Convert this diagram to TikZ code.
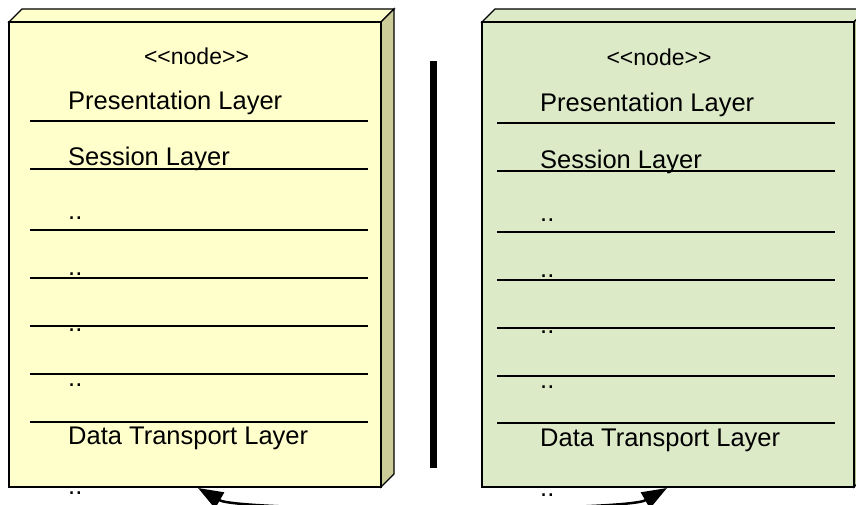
\documentclass[tikz,border=0pt]{standalone}
\usepackage{fontspec}
\setmainfont{Liberation Sans}
\usepackage{tikz}
\usetikzlibrary{arrows.meta}

\definecolor{nodeyellow}{RGB}{255,255,204}
\definecolor{nodeolive}{RGB}{204,204,153}
\definecolor{nodegreen}{RGB}{221,234,200}
\definecolor{nodegreendark}{RGB}{176,196,146}

\tikzset{
  face/.style={draw=black,line width=1.3pt,line join=miter},
  layerline/.style={draw=black,line width=1.5pt},
  layertext/.style={anchor=base west,inner sep=0pt,font=\fontsize{25.5}{30}\selectfont},
  stereotype/.style={anchor=base,inner sep=0pt,font=\fontsize{23}{27}\selectfont},
  link/.style={line width=2.5pt,{Triangle[length=25pt,width=18pt]}-{Triangle[length=25pt,width=18pt]}}
}

\begin{document}
\begin{tikzpicture}[x=1pt,y=-1pt]
\useasboundingbox (0,0) rectangle (856,505);
% left node:
\path[face,fill=nodeyellow] (9,22) -- (22,9) -- (394,9) -- (381,22) -- cycle;
\path[face,fill=nodeolive] (381,22) -- (394,9) -- (394,474) -- (381,487) -- cycle;
\node[face,fill=nodeyellow,minimum width=372pt,minimum height=465pt,inner sep=0pt] (lbox) at (195,254.5) {};
\foreach \y in {121,169,230,278,326,374,422}
  \path[layerline] (30,\y) -- (368,\y);
\node[stereotype] (lhead) at (196.5,65) {<{}<node>{}>};
\node[layertext] (lpres) at (68,110) {Presentation Layer};
\node[layertext] (lsess) at (68,166) {Session Layer};
\node[layertext] (ldotsa) at (68,219) {..};
\node[layertext] (ldotsb) at (68,275) {..};
\node[layertext] (ldotsc) at (68,331) {..};
\node[layertext] (ldotsd) at (68,386) {..};
\node[layertext] (ldata) at (68,444) {Data Transport Layer};
\node[layertext] (ldotse) at (68,494) {..};
% separator:
\path[draw=black,line width=7pt] (433,61) -- (433,468);
% right node:
\path[face,fill=nodegreen] (482,22) -- (495,9) -- (867,9) -- (854,22) -- cycle;
\path[face,fill=nodegreendark] (854,22) -- (867,9) -- (867,474) -- (854,487) -- cycle;
\node[face,fill=nodegreen,minimum width=372pt,minimum height=465pt,inner sep=0pt] (rbox) at (668,254.5) {};
\foreach \y in {123,171,232,280,328,376,423}
  \path[layerline] (497,\y) -- (835,\y);
\node[stereotype] (rhead) at (659,66) {<{}<node>{}>};
\node[layertext] (rpres) at (540,112) {Presentation Layer};
\node[layertext] (rsess) at (540,168) {Session Layer};
\node[layertext] (rdotsa) at (540,221) {..};
\node[layertext] (rdotsb) at (540,277) {..};
\node[layertext] (rdotsc) at (540,333) {..};
\node[layertext] (rdotsd) at (540,388) {..};
\node[layertext] (rdata) at (540,446) {Data Transport Layer};
\node[layertext] (rdotse) at (540,496) {..};
% link:
\coordinate (lend) at (198,488);
\coordinate (rend) at (667,488);
\draw[link] (lend) .. controls (240,512) and (625,512) .. (rend);
\end{tikzpicture}
\end{document}
